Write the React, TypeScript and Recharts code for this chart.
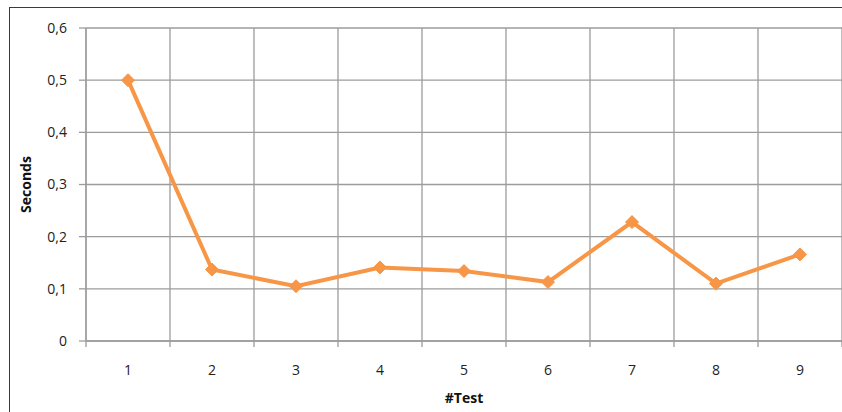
import { LineChart, Line, XAxis, YAxis, CartesianGrid } from 'recharts'

const tests = [1, 2, 3, 4, 5, 6, 7, 8, 9]
const seconds = [0.5, 0.137, 0.105, 0.141, 0.134, 0.113, 0.228, 0.11, 0.166]
const yTicks = [0, 0.1, 0.2, 0.3, 0.4, 0.5, 0.6]
const boundaryTicks = [0.5, 1.5, 2.5, 3.5, 4.5, 5.5, 6.5, 7.5, 8.5, 9.5]

const data = tests.map((t, i) => ({ test: t, seconds: seconds[i] }))

const FONT = '"Open Sans", "Noto Sans", sans-serif'
const GRID = '#9c9c9c'
const ORANGE = '#F79646'

const fmt = (v: number) => (v === 0 ? '0' : v.toFixed(1).replace('.', ','))

// diamond marker like the spreadsheet default
const Diamond = ({ cx, cy }: any) => {
  if (cx == null || cy == null) return null
  const r = 6.5
  return (
    <path
      d={`M${cx},${cy - r} L${cx + r},${cy} L${cx},${cy + r} L${cx - r},${cy} Z`}
      fill={ORANGE}
      stroke={ORANGE}
      strokeWidth={1}
    />
  )
}

// boundary axis only shows its tick marks, no text
const NoLabel = () => <g />

export default function App() {
  return (
    <div style={{ position: 'absolute', left: 0, top: 0, width: 842, height: 412, background: '#fff', overflow: 'hidden', fontFamily: FONT }}>
      <div
        style={{
          position: 'absolute',
          left: 9,
          top: 7,
          width: 860,
          height: 430,
          border: '1px solid #3a3a3a',
          boxShadow: '1px 1px 1px rgba(0,0,0,0.25)',
        }}
      />
      <div style={{ position: 'absolute', left: 0, top: 0 }}>
        <LineChart width={842} height={412} data={data} margin={{ top: 28, right: 0, left: 0, bottom: 41 }}>
          <CartesianGrid xAxisId="bounds" stroke={GRID} strokeWidth={1.3} />
          <XAxis
            xAxisId="bounds"
            dataKey="test"
            type="number"
            domain={[0.5, 9.5]}
            ticks={boundaryTicks}
            tick={<NoLabel />}
            tickSize={6}
            height={8}
            stroke={GRID}
            strokeWidth={1.3}
          />
          <XAxis
            xAxisId="labels"
            dataKey="test"
            type="number"
            domain={[0.5, 9.5]}
            ticks={tests}
            axisLine={false}
            tickLine={false}
            tickMargin={10}
            height={22}
            tick={{ fill: '#222', fontSize: 14, fontFamily: FONT }}
            label={{ value: '#Test', position: 'insideBottom', offset: -32, fill: '#111', fontSize: 14, fontWeight: 'bold', fontFamily: FONT }}
          />
          <YAxis
            type="number"
            domain={[0, 0.6]}
            ticks={yTicks}
            tickFormatter={fmt}
            width={86}
            tickSize={7}
            tickMargin={12}
            stroke={GRID}
            strokeWidth={1.3}
            tick={{ fill: '#222', fontSize: 14, fontFamily: FONT }}
            label={{ value: 'Seconds', angle: -90, position: 'insideLeft', offset: 26, fill: '#111', fontSize: 14, fontWeight: 'bold', fontFamily: FONT, style: { textAnchor: 'middle' } }}
          />
          <Line
            xAxisId="labels"
            type="linear"
            dataKey="seconds"
            stroke={ORANGE}
            strokeWidth={4}
            dot={<Diamond />}
            activeDot={false}
            isAnimationActive={false}
          />
        </LineChart>
      </div>
    </div>
  )
}
